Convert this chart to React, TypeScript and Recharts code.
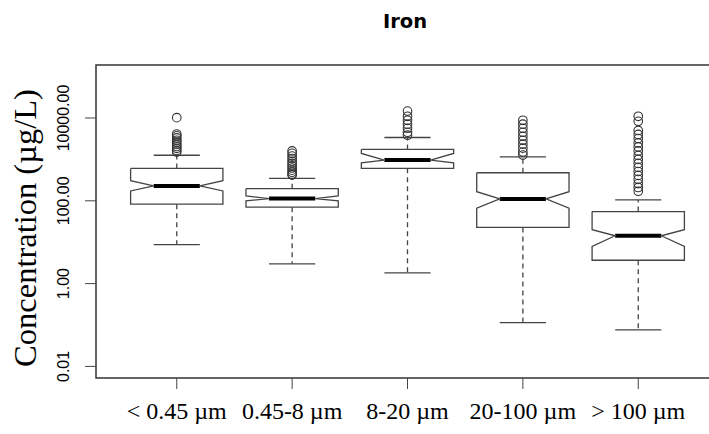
import React from 'react';
import { ComposedChart, XAxis, YAxis, Scatter, ReferenceLine, ReferenceArea } from 'recharts';

// size fractions, one box per category
const categories = ['< 0.45 µm', '0.45-8 µm', '8-20 µm', '20-100 µm', '> 100 µm'];

// box stats (µg/L)
const lowerWhisker = [8.7, 3.0, 1.82, 0.114, 0.076];
const q1 = [82.8, 70, 608, 22.7, 3.66];
const median = [228, 113, 962, 111, 14.3];
const q3 = [606, 196, 1740, 476, 55];
const upperWhisker = [1260, 349, 3380, 1150, 105];
const notchLow = [173, 100, 828, 66, 7.9];
const notchHigh = [306, 131, 1390, 166, 20];

const outliers = [
  [10200, 4100, 3700, 3300, 2900, 2600, 2300, 2050, 1850, 1650, 1500],
  [1600, 1400, 1200, 1050, 900, 800, 700, 620, 550, 490, 440, 418],
  [14700, 11000, 8800, 7100, 5650, 4530, 3840],
  [8800, 7100, 5650, 4530, 3620, 2900, 2330, 1870, 1500, 1270],
  [11000, 8300, 5000, 4000, 3200, 2500, 2000, 1600, 1250, 1000, 800, 640, 510, 410, 330, 260, 210, 170],
];

const yTicks = [0.01, 1, 100, 10000];

const Y_MIN = Math.pow(10, -2.28);
const Y_MAX = Math.pow(10, 5.28);
const X_MIN = 0.3;
const X_MAX = 5.7;
const BOX_HALF = 0.4;
const NOTCH_HALF = 0.2;
const LINE = '#444';

const boxOutline = (i: number) => {
  const c = i + 1;
  return [
    { x: c - BOX_HALF, y: q3[i] },
    { x: c + BOX_HALF, y: q3[i] },
    { x: c + BOX_HALF, y: notchHigh[i] },
    { x: c + NOTCH_HALF, y: median[i] },
    { x: c + BOX_HALF, y: notchLow[i] },
    { x: c + BOX_HALF, y: q1[i] },
    { x: c - BOX_HALF, y: q1[i] },
    { x: c - BOX_HALF, y: notchLow[i] },
    { x: c - NOTCH_HALF, y: median[i] },
    { x: c - BOX_HALF, y: notchHigh[i] },
    { x: c - BOX_HALF, y: q3[i] },
  ];
};

const outlierPoints = outliers.flatMap((vals, i) => vals.map((v) => ({ x: i + 1, y: v })));

const YTick = (props: any) => {
  const { x, y, payload } = props;
  return (
    <text
      x={x}
      y={y}
      transform={`rotate(-90, ${x}, ${y})`}
      textAnchor="middle"
      fontFamily="Liberation Sans, Arial, sans-serif"
      fontSize={16}
      fill="#000"
    >
      {Number(payload.value).toFixed(2)}
    </text>
  );
};

const Empty = () => <g />;

const Circle = (props: any) => (
  <circle cx={props.cx} cy={props.cy} r={4.3} fill="none" stroke="#333" strokeWidth={1.1} />
);

export default function App() {
  return (
    <div
      style={{
        position: 'fixed',
        left: 0,
        top: 0,
        width: 709,
        height: 434,
        overflow: 'hidden',
        background: '#fff',
      }}
    >
      <ComposedChart width={730} height={434} margin={{ top: 65, right: 11, bottom: 6, left: 0 }}>
        <XAxis
          type="number"
          dataKey="x"
          domain={[X_MIN, X_MAX]}
          allowDataOverflow
          ticks={[1, 2, 3, 4, 5]}
          tickFormatter={(v: number) => categories[v - 1]}
          axisLine={false}
          tickSize={11}
          tickMargin={13}
          height={50}
          tickLine={{ stroke: LINE }}
          tick={{ fill: '#000', fontSize: 24, fontFamily: 'Liberation Serif, Times New Roman, serif' }}
          interval={0}
        />
        <YAxis
          type="number"
          dataKey="y"
          scale="log"
          domain={[Y_MIN, Y_MAX]}
          allowDataOverflow
          ticks={yTicks}
          axisLine={false}
          tickSize={11}
          tickMargin={16}
          width={96}
          tickLine={{ stroke: LINE }}
          tick={<YTick />}
          interval={0}
        />
        <ReferenceArea x1={X_MIN} x2={X_MAX} y1={Y_MIN} y2={Y_MAX} fill="none" stroke="#333" strokeWidth={1.5} />
        {categories.map((_, i) => (
          <ReferenceLine
            key={`wu${i}`}
            segment={[{ x: i + 1, y: q3[i] }, { x: i + 1, y: upperWhisker[i] }]}
            stroke={LINE}
            strokeWidth={1.3}
            strokeDasharray="5 4"
          />
        ))}
        {categories.map((_, i) => (
          <ReferenceLine
            key={`wl${i}`}
            segment={[{ x: i + 1, y: q1[i] }, { x: i + 1, y: lowerWhisker[i] }]}
            stroke={LINE}
            strokeWidth={1.3}
            strokeDasharray="5 4"
          />
        ))}
        {categories.map((_, i) => (
          <ReferenceLine
            key={`cu${i}`}
            segment={[{ x: i + 1 - NOTCH_HALF, y: upperWhisker[i] }, { x: i + 1 + NOTCH_HALF, y: upperWhisker[i] }]}
            stroke={LINE}
            strokeWidth={1.3}
          />
        ))}
        {categories.map((_, i) => (
          <ReferenceLine
            key={`cl${i}`}
            segment={[{ x: i + 1 - NOTCH_HALF, y: lowerWhisker[i] }, { x: i + 1 + NOTCH_HALF, y: lowerWhisker[i] }]}
            stroke={LINE}
            strokeWidth={1.3}
          />
        ))}
        {categories.map((_, i) => (
          <Scatter
            key={`box${i}`}
            data={boxOutline(i)}
            dataKey="y"
            line={{ stroke: LINE, strokeWidth: 1.3 }}
            shape={<Empty />}
            isAnimationActive={false}
          />
        ))}
        {categories.map((_, i) => (
          <ReferenceLine
            key={`md${i}`}
            segment={[{ x: i + 1 - NOTCH_HALF, y: median[i] }, { x: i + 1 + NOTCH_HALF, y: median[i] }]}
            stroke="#000"
            strokeWidth={4}
          />
        ))}
        <Scatter data={outlierPoints} dataKey="y" shape={<Circle />} isAnimationActive={false} />
      </ComposedChart>
      <svg width={730} height={434} style={{ position: 'absolute', left: 0, top: 0, pointerEvents: 'none' }}>
        <text
          x={405}
          y={28}
          textAnchor="middle"
          fontFamily="DejaVu Sans, sans-serif"
          fontWeight="bold"
          fontSize={19.5}
          fill="#000"
        >
          Iron
        </text>
        <text
          x={36}
          y={228}
          transform="rotate(-90, 36, 228)"
          textAnchor="middle"
          fontFamily="Liberation Serif, Times New Roman, serif"
          fontSize={32.5}
          fill="#000"
        >
          Concentration (µg/L)
        </text>
      </svg>
    </div>
  );
}
